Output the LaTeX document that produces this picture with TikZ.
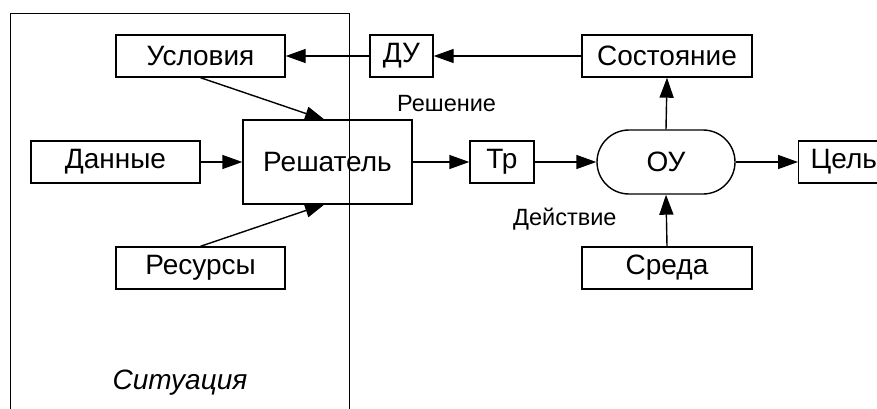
\documentclass[tikz,border=0pt]{standalone}
\usepackage{fontspec}
\setmainfont{Liberation Sans}
\usetikzlibrary{arrows.meta}
\tikzset{
  x=1pt, y=-1pt,
  box/.style={draw, line width=1.4pt, rectangle, inner sep=0pt, font=\fontsize{28}{28}\selectfont},
  lbl/.style={font=\fontsize{23.5}{24}\selectfont, inner sep=0pt},
  arr/.style={line width=1.4pt, -{Triangle[length=20pt, width=14pt]}},
  frame/.style={line width=0.8pt}
}
\begin{document}
\begin{tikzpicture}
\useasboundingbox (0,0) rectangle (877,409);
\clip (0,0) rectangle (877,409);
% situation frame
\draw[frame] (10,412) -- (10,13) -- (349,13) -- (349,412);
\node[font=\itshape\fontsize{28}{28}\selectfont, inner sep=0pt] (sit) at (180,383) {Ситуация};
% boxes
\node[box, minimum width=169pt, minimum height=42pt] (usl) at (200.5,56) {Условия};
\node[box, minimum width=63pt, minimum height=42pt] (du) at (401.5,56) {ДУ};
\node[box, minimum width=170pt, minimum height=42pt] (sost) at (667,56) {Состояние};
\node[box, minimum width=169pt, minimum height=42pt] (dan) at (115.5,162) {Данные};
\node[box, minimum width=169pt, minimum height=84pt] (resh) at (327.5,162) {Решатель};
\node[box, minimum width=64pt, minimum height=42pt] (tr) at (502,162) {Тр};
\node[box, minimum width=138pt, minimum height=64pt, rounded corners=32pt] (ou) at (666,162) {ОУ};
\node[box, minimum height=42pt, text width=90pt, align=left, inner xsep=12pt, anchor=west] (cel) at (798,162) {Цель};
\node[box, minimum width=169pt, minimum height=42pt] (res) at (200.5,268) {Ресурсы};
\node[box, minimum width=170pt, minimum height=42pt] (sreda) at (667,268) {Среда};
% labels
\node[lbl, anchor=west] (lresh) at (397,104) {Решение};
\node[lbl, anchor=west] (ldeist) at (513,219) {Действие};
% connectors
\draw[arr] (usl.south) -- (325,120);
\draw[arr] (res.north) -- (325,204);
\draw[arr] (dan.east) -- (resh.west);
\draw[arr] (resh.east) -- (tr.west);
\draw[arr] (tr.east) -- (ou.west);
\draw[arr] (ou.east) -- (cel.west);
\draw[arr] (ou.north) -- (sost.south);
\draw[arr] (sreda.north) -- (ou.south);
\draw[arr] (sost.west) -- (du.east);
\draw[arr] (du.west) -- (usl.east);
\end{tikzpicture}
\end{document}
